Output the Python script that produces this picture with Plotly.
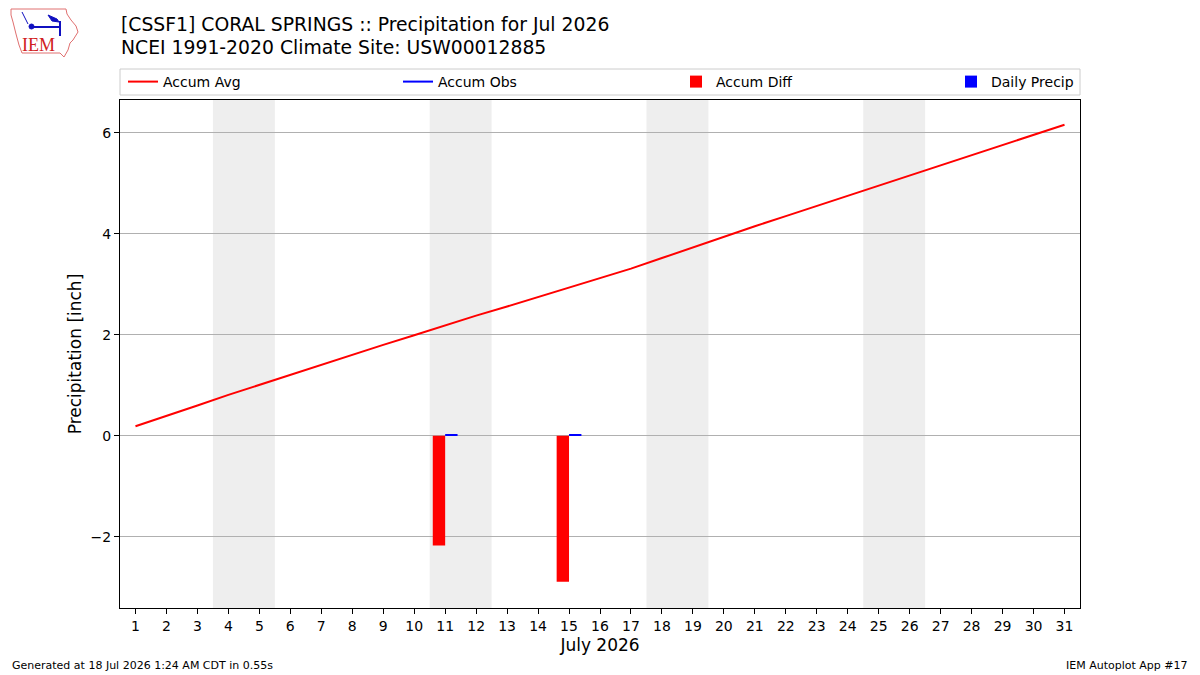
import datetime
import plotly.graph_objects as go

days = list(range(1, 32))
accum_avg = [0.19, 0.39, 0.60, 0.81, 1.01, 1.21, 1.41, 1.60, 1.80, 1.99,
             2.19, 2.38, 2.56, 2.75, 2.93, 3.12, 3.31, 3.52, 3.73, 3.95,
             4.15, 4.35, 4.55, 4.75, 4.95, 5.15, 5.36, 5.56, 5.75, 5.96, 6.16]
obs_days = [11, 15]
daily_precip = [0.02, 0.02]
accum_obs = [0.02, 0.04]
accum_diff = [-2.17, -2.89]

title_line1 = "[CSSF1] CORAL SPRINGS :: Precipitation for Jul 2026"
title_line2 = "NCEI 1991-2020 Climate Site: USW00012885"
footer_left = "Generated at 18 Jul 2026 1:24 AM CDT in 0.55s"
footer_right = "IEM Autoplot App #17"

W, H = 1200, 675
ML, MR, MT, MB = 120, 120, 100, 67
PW, PH = W - ML - MR, H - MT - MB


def px(x):
    return (x - ML) / PW


def py(y):
    return (H - MB - y) / PH


FONT = "DejaVu Sans"
fig = go.Figure()

obs_line = [None] * 31
for d, v in zip(obs_days, accum_obs):
    obs_line[d - 1] = v

fig.add_trace(go.Scatter(x=days, y=accum_avg, mode="lines", name="Accum Avg",
                         line=dict(color="red", width=2), legend="legend"))
fig.add_trace(go.Scatter(x=days, y=obs_line, mode="lines", name="Accum Obs",
                         line=dict(color="blue", width=2), connectgaps=False,
                         legend="legend2"))
fig.add_trace(go.Bar(x=obs_days, y=accum_diff, name="Accum Diff",
                     marker=dict(color="red", line=dict(width=0)),
                     width=0.4, offset=-0.4, legend="legend3"))
fig.add_trace(go.Bar(x=obs_days, y=daily_precip, name="Daily Precip",
                     marker=dict(color="blue", line=dict(width=0)),
                     width=0.4, offset=0, legend="legend4"))

shapes = []
for d in days:
    if datetime.date(2026, 7, d).weekday() == 5:
        shapes.append(dict(type="rect", xref="x", yref="paper", x0=d - 0.5, x1=d + 1.5,
                           y0=0, y1=1, fillcolor="#eeeeee", line=dict(width=0), layer="below"))
shapes.append(dict(type="rect", xref="paper", yref="paper", x0=px(120), x1=px(1080),
                   y0=py(95), y1=py(69), line=dict(color="#cccccc", width=1),
                   fillcolor="rgba(255,255,255,0.8)", layer="below"))

outline = [(11, 9), (66, 9), (67, 14), (71, 20), (76, 26), (78, 32), (73, 40),
           (70, 43), (68, 50), (64, 57), (60, 53), (22, 53), (19, 45), (16, 34),
           (13, 22), (11, 15)]
path = "M " + " L ".join(f"{px(a)},{py(b)}" for a, b in outline) + " Z"
shapes.append(dict(type="path", xref="paper", yref="paper", path=path,
                   line=dict(color="#e07070", width=1)))
blue = "#1010c0"
shapes += [
    dict(type="line", xref="paper", yref="paper", x0=px(31), y0=py(27), x1=px(60), y1=py(27),
         line=dict(color=blue, width=2)),
    dict(type="circle", xref="paper", yref="paper", x0=px(29), y0=py(29), x1=px(34), y1=py(24),
         fillcolor=blue, line=dict(color=blue, width=1)),
    dict(type="path", xref="paper", yref="paper",
         path=f"M {px(48)},{py(15)} L {px(57)},{py(19)} L {px(59)},{py(22)} L {px(52)},{py(21)} Z",
         fillcolor=blue, line=dict(color=blue, width=1)),
    dict(type="line", xref="paper", yref="paper", x0=px(60), y0=py(21), x1=px(60), y1=py(36),
         line=dict(color=blue, width=2)),
    dict(type="line", xref="paper", yref="paper", x0=px(22), y0=py(12), x1=px(28), y1=py(24),
         line=dict(color=blue, width=1)),
]

annotations = [
    dict(text=title_line1, xref="paper", yref="paper", x=px(119), y=py(24),
         xanchor="left", yanchor="middle", showarrow=False,
         font=dict(family=FONT, size=18.8, color="black")),
    dict(text=title_line2, xref="paper", yref="paper", x=px(119), y=py(48),
         xanchor="left", yanchor="middle", showarrow=False,
         font=dict(family=FONT, size=18.8, color="black")),
    dict(text="IEM", xref="paper", yref="paper", x=px(38), y=py(45), xanchor="center",
         yanchor="middle", showarrow=False,
         font=dict(family="Liberation Serif", size=18, color="#d02020")),
    dict(text=footer_left, xref="paper", yref="paper", x=px(10), y=py(665),
         xanchor="left", yanchor="middle", showarrow=False,
         font=dict(family=FONT, size=11, color="black")),
    dict(text=footer_right, xref="paper", yref="paper", x=px(1190), y=py(665),
         xanchor="right", yanchor="middle", showarrow=False,
         font=dict(family=FONT, size=11, color="black")),
]


def leg(xpix):
    return dict(orientation="h", x=px(xpix), xanchor="left", y=py(82), yanchor="middle",
                bgcolor="rgba(0,0,0,0)", borderwidth=0, font=dict(family=FONT, size=14),
                itemwidth=30)


fig.update_layout(
    width=W, height=H,
    margin=dict(l=ML, r=MR, t=MT, b=MB),
    paper_bgcolor="white", plot_bgcolor="white",
    font=dict(family=FONT, size=14, color="black"),
    barmode="overlay",
    showlegend=True,
    legend=leg(123),
    legend2=leg(398),
    legend3=leg(676),
    legend4=leg(951),
    shapes=shapes,
    annotations=annotations,
    xaxis=dict(range=[0.5, 31.5], tickmode="array", tickvals=days,
               ticktext=[str(d) for d in days], showgrid=False, zeroline=False,
               ticks="outside", ticklen=5, tickcolor="black", showline=True,
               linecolor="black", linewidth=1, mirror=True,
               tickfont=dict(size=14),
               title=dict(text="July 2026", font=dict(size=17), standoff=6)),
    yaxis=dict(range=[-3.41, 6.65], tickmode="array", tickvals=[-2, 0, 2, 4, 6],
               showgrid=True, gridcolor="#b0b0b0", gridwidth=1, zeroline=False,
               ticks="outside", ticklen=5, tickcolor="black", showline=True,
               linecolor="black", linewidth=1, mirror=True,
               tickfont=dict(size=14),
               title=dict(text="Precipitation [inch]", font=dict(size=17), standoff=4)),
)

fig.write_html("out.html")
